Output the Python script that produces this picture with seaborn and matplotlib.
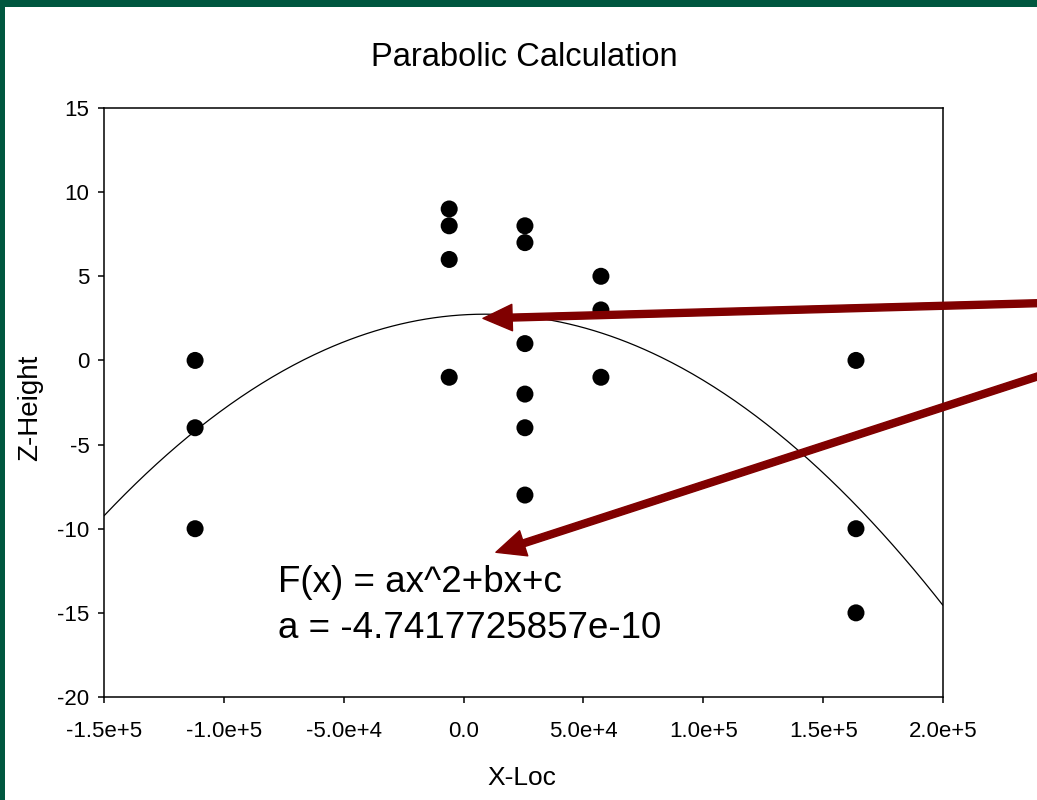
import numpy as np
import pandas as pd
import matplotlib
matplotlib.use("Agg")
import matplotlib.pyplot as plt
import seaborn as sns
from matplotlib.patches import Rectangle
from matplotlib.colors import to_rgb

# ---- data ----
x_loc = [-112000, -112000, -112000,
         -6000, -6000, -6000, -6000,
         25600, 25600, 25600, 25600, 25600, 25600,
         57300, 57300, 57300,
         163700, 163700, 163700]
z_height = [0, -4, -10,
            9, 8, 6, -1,
            8, 7, 1, -2, -4, -8,
            5, 3, -1,
            0, -10, -15]
coef_a = -4.7417725857e-10
coef_b = 8.5e-6
coef_c = 2.71
x_ticks = [-150000, -100000, -50000, 0, 50000, 100000, 150000, 200000]
x_tick_labels = ["-1.5e+5", "-1.0e+5", "-5.0e+4", "0.0", "5.0e+4", "1.0e+5", "1.5e+5", "2.0e+5"]
y_ticks = [-20, -15, -10, -5, 0, 5, 10, 15]
title = "Parabolic Calculation"
x_label = "X-Loc"
y_label = "Z-Height"
note_lines = ["F(x) = ax^2+bx+c", "a = -4.7417725857e-10"]

sns.set_theme(style="ticks")
plt.rcParams["font.family"] = ["Liberation Sans", "DejaVu Sans"]
plt.rcParams["axes.unicode_minus"] = False
plt.rcParams["text.color"] = "black"

W, H = 1037, 800
fig = plt.figure(figsize=(W / 100, H / 100), dpi=100)
fig.patch.set_facecolor("white")
ax = fig.add_axes([104 / W, 1 - 697 / H, (943 - 104) / W, (697 - 108) / H])

df = pd.DataFrame({"x": x_loc, "z": z_height})
xs = np.linspace(-150000, 200000, 400)
curve = pd.DataFrame({"x": xs, "z": coef_a * xs ** 2 + coef_b * xs + coef_c})

sns.lineplot(data=curve, x="x", y="z", ax=ax, color="black", linewidth=0.9)
sns.scatterplot(data=df, x="x", y="z", ax=ax, color="black", s=150,
                edgecolor="none", zorder=3)

ax.set_xlim(-150000, 200000)
ax.set_ylim(-20, 15)
ax.set_xticks(x_ticks)
ax.set_xticklabels(x_tick_labels)
ax.set_yticks(y_ticks)
ax.set_xlabel("")
ax.set_ylabel("")
for s in ax.spines.values():
    s.set_linewidth(1.1)
    s.set_color("black")
ax.tick_params(axis="both", direction="out", length=4.5, width=1.1,
               labelsize=16, colors="black", labelcolor="black")
ax.tick_params(axis="x", pad=13)
ax.tick_params(axis="y", pad=6)

fig.text(524 / W, 1 - 58 / H, title, ha="center", va="center", fontsize=23.5, color="black")
fig.text(522 / W, 1 - 778 / H, x_label, ha="center", va="center", fontsize=19, color="black")
fig.text(30 / W, 1 - 408 / H, y_label, ha="center", va="center",
         fontsize=20, rotation=90, color="black")

fig.text(278 / W, 1 - 582 / H, note_lines[0], ha="left", va="center", fontsize=26.5, color="black")
fig.text(278 / W, 1 - 628 / H, note_lines[1], ha="left", va="center", fontsize=26.5, color="black")

arrow_red = "#800000"
arrowprops = dict(facecolor=arrow_red, edgecolor=arrow_red, width=5,
                  headwidth=19, headlength=21, shrink=0)
ax.annotate("", xy=(8100, 2.5), xycoords="data",
            xytext=(1045, H - 303), textcoords="figure pixels",
            arrowprops=arrowprops, annotation_clip=False)
ax.annotate("", xy=(13500, -11.4), xycoords="data",
            xytext=(1045, H - 374), textcoords="figure pixels",
            arrowprops=arrowprops, annotation_clip=False)

# slide frame
green = "#00573F"
fig.patches.append(Rectangle((0, 1 - 7 / H), 1, 7 / H, transform=fig.transFigure,
                             facecolor=green, edgecolor="none", zorder=10))
fig.patches.append(Rectangle((0, 0), 5 / W, 1, transform=fig.transFigure,
                             facecolor=green, edgecolor="none", zorder=10))
gax = fig.add_axes([0, 0, 5 / W, 180 / H])
grad_cols = ["#2f6552", "#4f8a76", "#6a9f90", "#6a9f90", "#5e9784", "#0e6a4c",
             "#0b6a4a", "#6aa290", "#015a41", "#00573F"]
img = np.array([[to_rgb(c)] for c in grad_cols])
gax.imshow(img, aspect="auto", origin="lower", interpolation="bilinear")
gax.set_axis_off()

fig.savefig("out.png", dpi=100, facecolor="white")
